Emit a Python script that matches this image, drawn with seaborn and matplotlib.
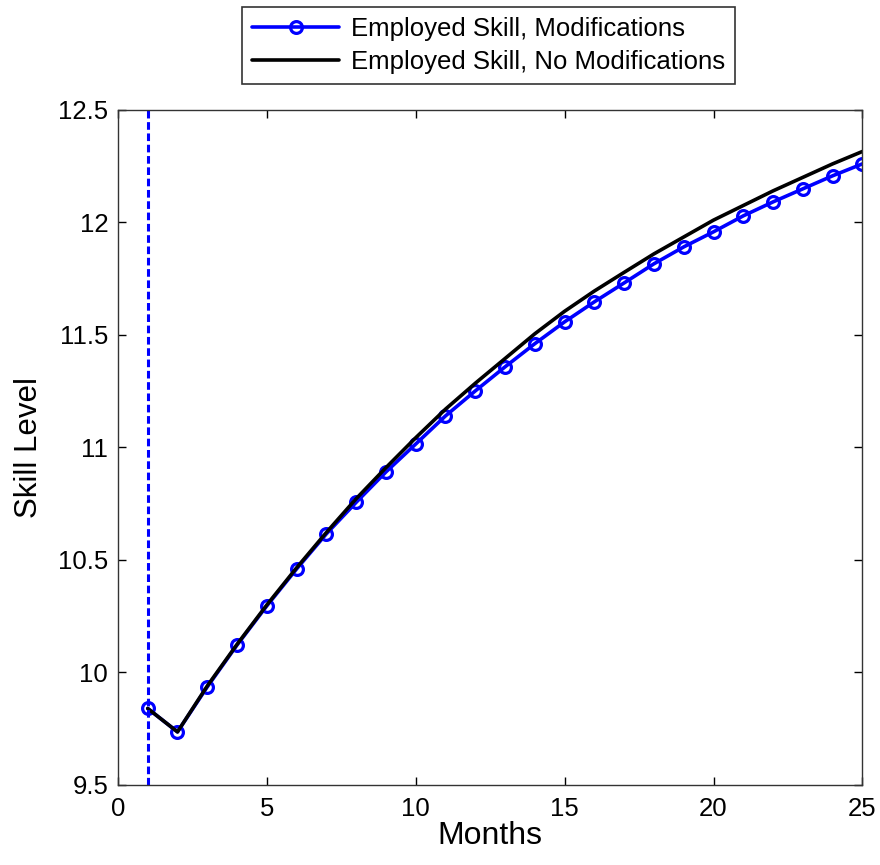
import numpy as np
import pandas as pd
import matplotlib
matplotlib.use("Agg")
import matplotlib.pyplot as plt
import seaborn as sns

# Data
months = list(range(1, 26))
skill_mod = [9.84, 9.736, 9.936, 10.122, 10.296, 10.46, 10.616, 10.756, 10.891, 11.015,
             11.14, 11.251, 11.358, 11.461, 11.558, 11.647, 11.731, 11.816, 11.891, 11.958,
             12.029, 12.091, 12.149, 12.207, 12.26]
skill_nomod = [9.84, 9.736, 9.94, 10.125, 10.30, 10.465, 10.622, 10.772, 10.91, 11.043,
               11.17, 11.285, 11.395, 11.505, 11.605, 11.695, 11.778, 11.86, 11.935, 12.01,
               12.075, 12.14, 12.20, 12.26, 12.315]
cutoff_month = 1

df = pd.DataFrame({"Months": months, "mod": skill_mod, "nomod": skill_nomod})

sns.set_style("white")
plt.rcParams['font.family'] = ['Liberation Sans', 'DejaVu Sans']
plt.rcParams['text.color'] = 'black'
plt.rcParams['axes.labelcolor'] = 'black'

fig = plt.figure(figsize=(8.8, 8.65), dpi=100)
ax = fig.add_axes([0.134, 0.0925, 0.846, 0.7805])

# series with modifications (open circle markers)
sns.lineplot(data=df, x="Months", y="mod", ax=ax, color="#0000ff", lw=2.6,
             marker="o", markersize=8.5, markerfacecolor="none",
             markeredgecolor="#0000ff", markeredgewidth=2.3,
             label="Employed Skill, Modifications")
# series without modifications
sns.lineplot(data=df, x="Months", y="nomod", ax=ax, color="black", lw=2.6,
             label="Employed Skill, No Modifications")
ax.axvline(cutoff_month, color="#0000ff", lw=2.2, ls=(0, (2.5, 1.2)))

ax.set_xlim(0, 25)
ax.set_ylim(9.5, 12.5)
ax.set_xticks([0, 5, 10, 15, 20, 25])
ax.set_yticks([9.5, 10, 10.5, 11, 11.5, 12, 12.5])
ax.set_yticklabels(["9.5", "10", "10.5", "11", "11.5", "12", "12.5"])
ax.set_xlabel("Months", fontsize=23, labelpad=0)
ax.set_ylabel("Skill Level", fontsize=22.5, labelpad=10)
ax.tick_params(direction="in", length=6, width=1, labelsize=18.5, top=True, right=True,
               bottom=True, left=True, colors="black")
ax.tick_params(axis="x", pad=9)
ax.tick_params(axis="y", pad=7)
for s in ax.spines.values():
    s.set_color("#333333")
    s.set_linewidth(1)

leg = ax.legend(loc="upper center", bbox_to_anchor=(488.5 / 880, 0.992),
                bbox_transform=fig.transFigure, fontsize=18.5,
                frameon=True, fancybox=False, edgecolor="black", handlelength=3.4,
                borderpad=0.4, labelspacing=0.35, handletextpad=0.45, borderaxespad=0)
leg.get_frame().set_linewidth(1.2)

fig.savefig("out.png", dpi=100)
